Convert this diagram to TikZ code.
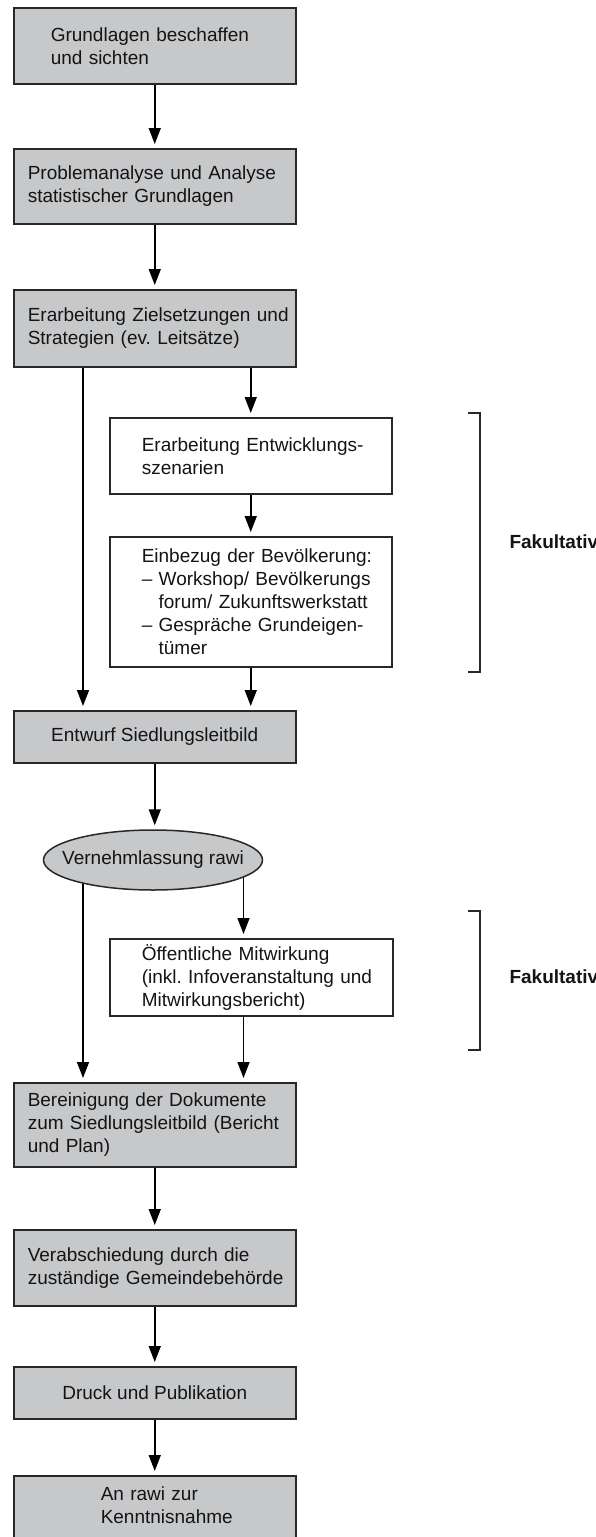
\documentclass[tikz,border=0pt]{standalone}
\usepackage{fontspec}
\setmainfont{Liberation Sans}
\usetikzlibrary{arrows.meta,shapes.geometric,backgrounds}
\definecolor{boxgray}{RGB}{199,200,202}
\definecolor{edgec}{RGB}{40,40,40}
\definecolor{txtc}{RGB}{20,20,20}
\frenchspacing
\begin{document}
\begin{tikzpicture}[x=1pt,y=-1pt,
  every node/.style={font=\fontsize{19}{23}\selectfont, text=txtc},
  graybox/.style={draw=edgec, line width=1.5pt, fill=boxgray, anchor=north west,
    minimum width=282pt, inner ysep=0pt, align=left},
  whitebox/.style={graybox, fill=white},
  arr/.style={draw=black, line width=1.5pt, -{Triangle[length=16pt,width=12pt]}, shorten >=4pt},
  brk/.style={draw=edgec, line width=1.5pt},
  fak/.style={anchor=west, font=\fontsize{19}{23}\selectfont\bfseries}
]
\useasboundingbox (0,0) rectangle (596,1537);

% main nodes
\node[graybox, inner xsep=37pt, text width=208pt, minimum height=76pt] (b1) at (13,7)
  {\mbox{Grundlagen beschaffen}\\\mbox{und sichten}};
\node[graybox, inner xsep=14pt, text width=254pt, minimum height=75pt] (b2) at (13,148)
  {\mbox{Problemanalyse und Analyse}\\\mbox{statistischer Grundlagen}};
\node[graybox, inner xsep=14pt, text width=254pt, minimum height=77pt] (b3) at (13,289)
  {\mbox{Erarbeitung Zielsetzungen und}\\\mbox{Strategien (ev. Leitsätze)}};
\node[whitebox, inner xsep=32pt, text width=218pt, minimum height=76pt] (b4) at (109,417)
  {\mbox{Erarbeitung Entwicklungs-}\\\mbox{szenarien}};
\node[whitebox, inner xsep=32pt, text width=218pt, minimum height=130pt] (b5) at (109,536)
  {\mbox{Einbezug der Bevölkerung:}\\
   \mbox{\textendash\ Workshop/ Bevölkerungs}\\
   \mbox{\phantom{\textendash\ }forum/ Zukunftswerkstatt}\\
   \mbox{\textendash\ Gespräche Grundeigen-}\\
   \mbox{\phantom{\textendash\ }tümer}};
\node[graybox, align=center, minimum height=52pt] (b6) at (13,710)
  {Entwurf Siedlungsleitbild};
\node[ellipse, draw=edgec, line width=1.5pt, fill=boxgray, minimum width=219pt,
  minimum height=60pt, inner sep=0pt] (ell) at (153,860)
  {\makebox[0pt]{Vernehmlassung rawi}};
\node[whitebox, inner xsep=32pt, text width=219pt, minimum height=77pt, minimum width=283pt] (b7) at (109,938)
  {\mbox{Öffentliche Mitwirkung}\\\mbox{(inkl. Infoveranstaltung und}\\\mbox{Mitwirkungsbericht)}};
\node[graybox, inner xsep=14pt, text width=254pt, minimum height=84pt] (b8) at (13,1082)
  {\mbox{Bereinigung der Dokumente}\\\mbox{zum Siedlungsleitbild (Bericht}\\\mbox{und Plan)}};
\node[graybox, inner xsep=14pt, text width=254pt, minimum height=76pt] (b9) at (13,1229)
  {\mbox{Verabschiedung durch die}\\\mbox{zuständige Gemeindebehörde}};
\node[graybox, align=center, minimum height=52pt] (b10) at (13,1366)
  {Druck und Publikation};
\node[graybox, inner xsep=87pt, text width=108pt, minimum height=86pt, text depth=50pt] (b11) at (13,1475)
  {\mbox{An rawi zur}\\\mbox{Kenntnisnahme}};

% side annotations
\node[fak] (f1) at (506,542) {Fakultativ};
\node[fak] (f2) at (506,977) {Fakultativ};
\draw[brk] (468,413) -| (480,672) -- (468,672);
\draw[brk] (468,911) -| (480,1050) -- (468,1050);

% helper x positions
\coordinate (xl) at (83,0);
\coordinate (xr) at (243.5,0);

\begin{scope}[on background layer]
\draw[arr] (b1.south) -- (b2.north);
\draw[arr] (b2.south) -- (b3.north);
\draw[arr] (b3.south -| xl) -- (b6.north -| xl);
\draw[arr] (b3.south -| b4.north) -- (b4.north);
\draw[arr] (b4.south) -- (b5.north);
\draw[arr] (b5.south) -- (b5.south |- b6.north);
\draw[arr] (b6.south) -- (b6.south |- ell.north);
\draw[arr] (ell.center -| xl) -- (b8.north -| xl);
\draw[arr] (ell.center -| xr) -- (b7.north -| xr);
\draw[arr] (b7.south -| xr) -- (b8.north -| xr);
\draw[arr] (b8.south) -- (b9.north);
\draw[arr] (b9.south) -- (b10.north);
\draw[arr] (b10.south) -- (b11.north);
\end{scope}
\end{tikzpicture}
\end{document}
